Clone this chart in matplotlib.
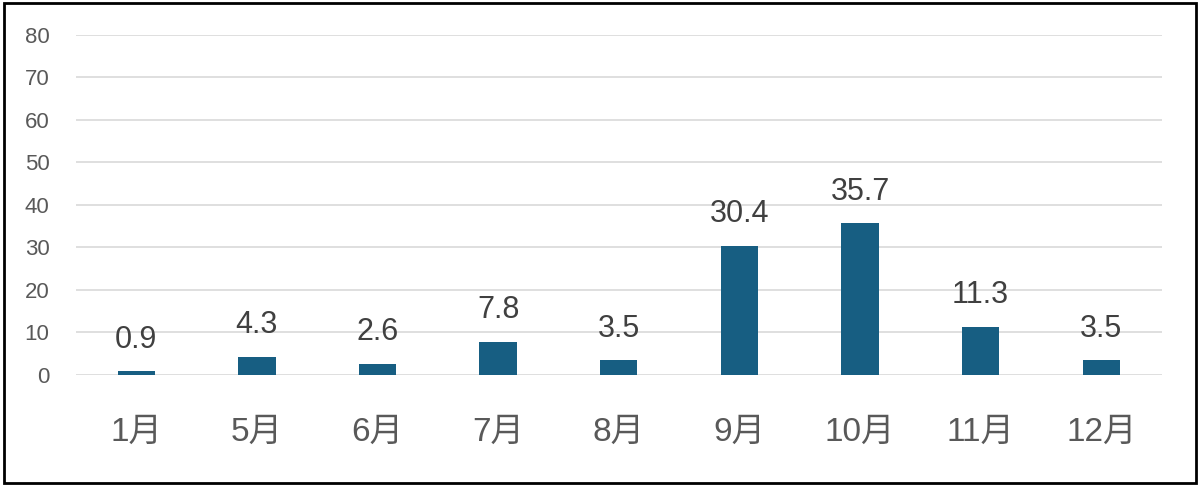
import matplotlib
matplotlib.use("Agg")
import matplotlib.pyplot as plt
from matplotlib.patches import Rectangle

months = ["1月", "5月", "6月", "7月", "8月", "9月", "10月", "11月", "12月"]
values = [0.9, 4.3, 2.6, 7.8, 3.5, 30.4, 35.7, 11.3, 3.5]
yticks = [0, 10, 20, 30, 40, 50, 60, 70, 80]

plt.rcParams['font.family'] = ['Liberation Sans', 'Noto Sans CJK JP', 'DejaVu Sans']

fig = plt.figure(figsize=(12, 4.86), dpi=100)
ax = fig.add_axes([0.0633, 0.2284, 0.9047, 0.6996])

x = list(range(len(months)))
bars = ax.bar(x, values, width=0.31, color='#175E82', zorder=3)

for xi, v in zip(x, values):
    ax.annotate(f"{v}", (xi, v), xytext=(0, 17), textcoords='offset points',
                ha='center', va='baseline', fontsize=22, color='#404040')

ax.set_xlim(-0.5, len(months) - 0.5)
ax.set_ylim(0, 80)
ax.set_yticks(yticks)
ax.set_xticks(x)
ax.set_xticklabels(months, fontsize=24, color='#595959')
ax.tick_params(axis='y', labelsize=16, labelcolor='#595959', length=0, pad=19)
ax.tick_params(axis='x', length=0, pad=30)
ax.grid(axis='y', color='#d9d9d9', linewidth=1.2, zorder=0)
for s in ax.spines.values():
    s.set_visible(False)

fig.patches.append(Rectangle((0.003, 0.006), 0.994, 0.987, transform=fig.transFigure,
                             fill=False, edgecolor='black', linewidth=2))

fig.savefig("out.png", dpi=100)
